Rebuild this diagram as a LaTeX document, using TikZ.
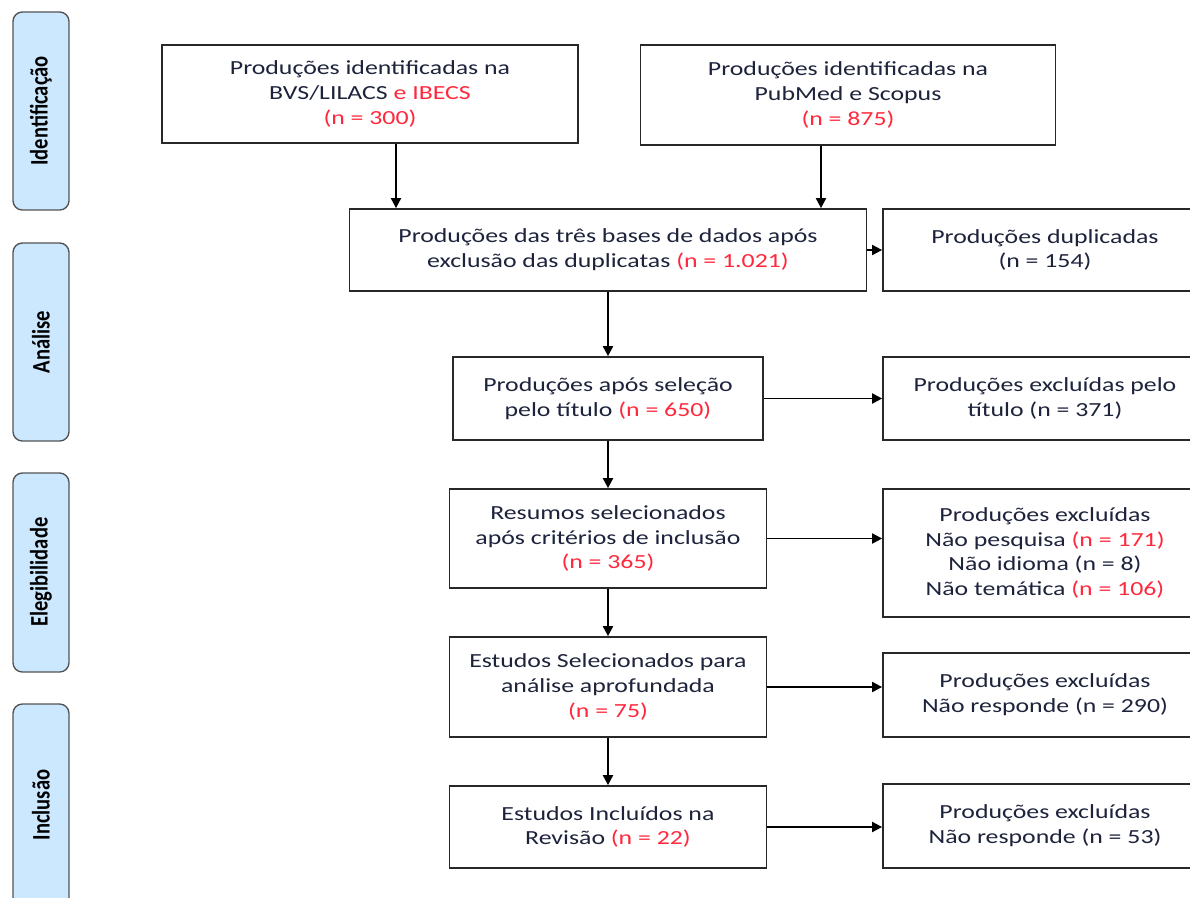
\documentclass[tikz,border=0pt]{standalone}
\usepackage{fontspec}
\setmainfont{Carlito}[FakeStretch=1.29]
\newfontfamily\sidefont{Carlito}
\usepackage{graphicx}
\usetikzlibrary{arrows.meta,calc}
\definecolor{txt}{RGB}{30,35,60}
\definecolor{rd}{RGB}{255,40,60}
\definecolor{lbl}{RGB}{204,232,255}
\definecolor{brd}{RGB}{40,40,40}
\newcommand{\R}[1]{\textcolor{rd}{#1}}
\newcommand{\sidelab}[1]{\scalebox{1.1}[1.35]{#1}}
\tikzset{
  box/.style={draw=brd, line width=1.3pt, fill=white, align=center, text=txt,
    font=\fontsize{15}{18.6}\selectfont, inner sep=0pt},
  side/.style={draw=brd!80, line width=1pt, fill=lbl, rounded corners=7pt},
  sidetxt/.style={rotate=90, font=\sidefont\fontsize{14}{16}\selectfont\bfseries, text=black},
  arr/.style={line width=1.4pt, draw=black, -{Triangle[length=7.5pt,width=7.5pt]}}
}
\begin{document}
\begin{tikzpicture}[x=0.75pt,y=-0.75pt]
\useasboundingbox (0,0) rectangle (1190,897);
\clip (0,0) rectangle (1190,897);
% side labels
\draw[side] (13,12) rectangle (69,210);
\node[sidetxt] (s1) at (41,111) {\sidelab{Identificação}};
\draw[side] (13,243) rectangle (69,441);
\node[sidetxt] (s2) at (41,342) {\sidelab{Análise}};
\draw[side] (13,473) rectangle (69,672);
\node[sidetxt] (s3) at (41,572) {\sidelab{Elegibilidade}};
\draw[side] (13,704) rectangle (69,910);
\node[sidetxt] (s4) at (41,805) {\sidelab{Inclusão}};
% main boxes
\node[box, minimum width=416*0.75pt, minimum height=98*0.75pt] (b1) at (370,94)
  {Produções identificadas na\\BVS/LILACS \R{e IBECS}\\\R{(n = 300)}};
\node[box, minimum width=415*0.75pt, minimum height=100*0.75pt] (b2) at (848,95)
  {Produções identificadas na\\PubMed e Scopus\\\R{(n = 875)}};
\node[box, minimum width=517*0.75pt, minimum height=82*0.75pt] (b3) at (608,250)
  {Produções das três bases de dados após\\exclusão das duplicatas \R{(n = 1.021)}};
\node[box, minimum width=310*0.75pt, minimum height=83*0.75pt] (b4) at (608,398.5)
  {Produções após seleção\\pelo título \R{(n = 650)}};
\node[box, minimum width=317*0.75pt, minimum height=99*0.75pt] (b5) at (608,538.5)
  {Resumos selecionados\\após critérios de inclusão\\\R{(n = 365)}};
\node[box, minimum width=317*0.75pt, minimum height=100*0.75pt] (b6) at (608,687)
  {Estudos Selecionados para\\análise aprofundada\\\R{(n = 75)}};
\node[box, minimum width=317*0.75pt, minimum height=82*0.75pt] (b7) at (608,827)
  {Estudos Incluídos na\\Revisão \R{(n = 22)}};
% right boxes
\node[box, minimum width=324*0.75pt, minimum height=82*0.75pt] (r1) at (1045,250)
  {Produções duplicadas\\(n = 154)};
\node[box, minimum width=324*0.75pt, minimum height=83*0.75pt] (r2) at (1045,398.5)
  {Produções excluídas pelo\\título (n = 371)};
\node[box, minimum width=324*0.75pt, minimum height=128*0.75pt] (r3) at (1045,553)
  {Produções excluídas\\Não pesquisa \R{(n = 171)}\\Não idioma (n = 8)\\Não temática \R{(n = 106)}};
\node[box, minimum width=324*0.75pt, minimum height=84*0.75pt] (r4) at (1045,695)
  {Produções excluídas\\Não responde (n = 290)};
\node[box, minimum width=324*0.75pt, minimum height=84*0.75pt] (r5) at (1045,826)
  {Produções excluídas\\Não responde (n = 53)};
% connectors
\coordinate (a1) at ($(b1.south)+(26,0)$);
\coordinate (a2) at ($(b2.south)+(-27,0)$);
\draw[arr] (a1) -- (a1 |- b3.north);
\draw[arr] (a2) -- (a2 |- b3.north);
\draw[arr] (b3.east) -- (b3.east -| r1.west);
\draw[arr] (b3.south) -- (b4.north);
\draw[arr] (b4.east) -- (b4.east -| r2.west);
\draw[arr] (b4.south) -- (b5.north);
\draw[arr] (b5.east) -- (b5.east -| r3.west);
\draw[arr] (b5.south) -- (b6.north);
\draw[arr] (b6.east) -- (b6.east -| r4.west);
\draw[arr] (b6.south) -- (b7.north);
\draw[arr] (b7.east) -- (b7.east -| r5.west);
\end{tikzpicture}
\end{document}
